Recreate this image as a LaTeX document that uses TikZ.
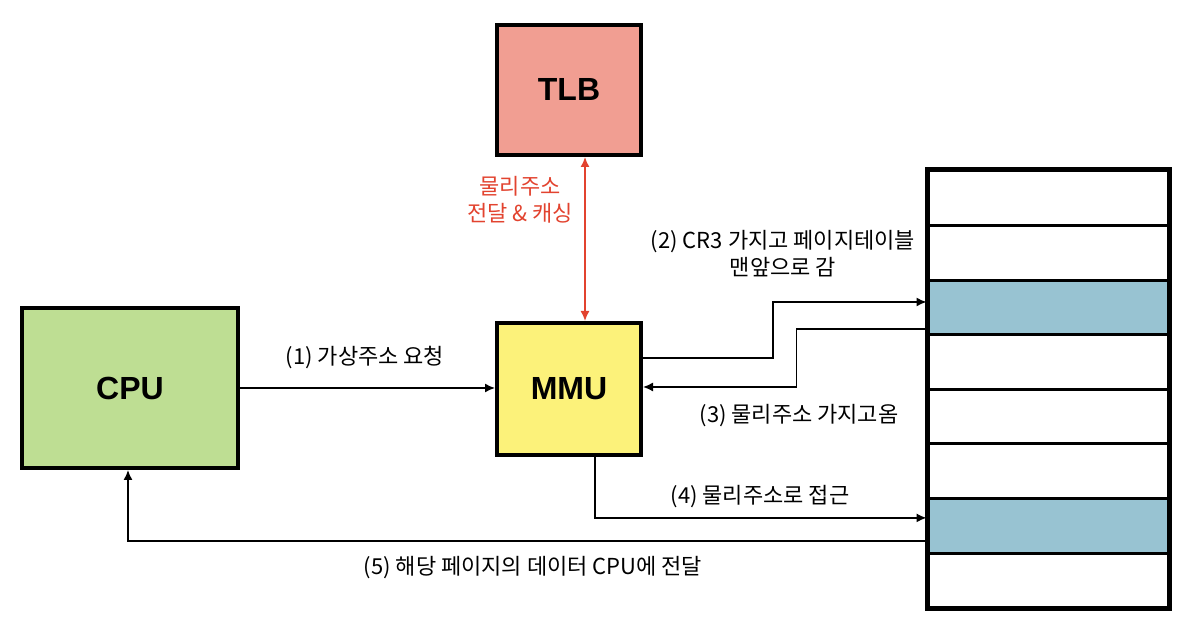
\documentclass[tikz,border=0pt]{standalone}
\usepackage{fontspec}
\setsansfont{Liberation Sans}
\newfontfamily\kr{Noto Sans CJK KR}
\usetikzlibrary{arrows.meta,positioning}
\definecolor{tlbred}{HTML}{F19E92}
\definecolor{cpugreen}{HTML}{BEDE93}
\definecolor{mmuyellow}{HTML}{FCF27A}
\definecolor{pageblue}{HTML}{98C3D2}
\definecolor{cacheline}{HTML}{E2432F}
\tikzset{
unit/.style={draw,line width=2pt,font=\sffamily\bfseries\fontsize{16}{19}\selectfont},
page/.style={draw,line width=1.5pt,minimum width=120pt,minimum height=27.3pt,inner sep=0pt},
flow/.style={line width=0.75pt,-{Latex[length=5pt,width=4.5pt]}},
lbl/.style={font=\kr\fontsize{11}{13.5}\selectfont,align=center,inner sep=1pt}
}

\begin{document}
\begin{tikzpicture}[x=0.5pt,y=0.5pt]
\useasboundingbox (0,0) rectangle (1185,626);
\node[unit,fill=tlbred,minimum width=72pt,minimum height=65pt] (tlb) at (569,536) {TLB};
\node[unit,fill=cpugreen,minimum width=108pt,minimum height=80pt] (cpu) at (130,238) {CPU};
\node[unit,fill=mmuyellow,minimum width=72pt,minimum height=66pt] (mmu) at (569,237) {MMU};
% page table
\foreach \i/\c in {1/white,2/white,3/pageblue,4/white,5/white,6/white,7/pageblue,8/white}
  \node[page,fill=\c] (row\i) at (1048,{455-54.6*(\i-0.5)}) {};
\draw[line width=2pt] (row1.north west) rectangle (row8.south east);
% connectors
\draw[flow] (cpu.east) -- (cpu.east -| mmu.west);
\draw[line width=0.75pt,cacheline,{Latex[length=5pt,width=4.5pt]}-{Latex[length=5pt,width=4.5pt]}] ([xshift=8pt]tlb.south) -- ([xshift=8pt]mmu.north);
\draw[flow] ([yshift=15.5pt]mmu.east) -- ++(130,0) |- ([yshift=2.75pt]row3.west);
\draw[flow] ([yshift=-10.75pt]row3.west) -- ++(-130,0) |- ([yshift=1pt]mmu.east);
\draw[flow] ([xshift=13pt]mmu.south) |- ([yshift=4pt]row7.west);
\draw[flow] ([yshift=-7.5pt]row7.west) -| ([xshift=-1pt]cpu.south);
% labels
\node[lbl] (lbl1) at (365,268) {(1) 가상주소 요청};
\node[lbl,text=cacheline] (lblc) at (520,426) {물리주소\\전달 \& 캐싱};
\node[lbl] (lbl2) at (783,372) {(2) CR3 가지고 페이지테이블\\맨앞으로 감};
\node[lbl] (lbl3) at (799,210) {(3) 물리주소 가지고옴};
\node[lbl] (lbl4) at (760,129) {(4) 물리주소로 접근};
\node[lbl] (lbl5) at (533,58) {(5) 해당 페이지의 데이터 CPU에 전달};
\end{tikzpicture}
\end{document}
